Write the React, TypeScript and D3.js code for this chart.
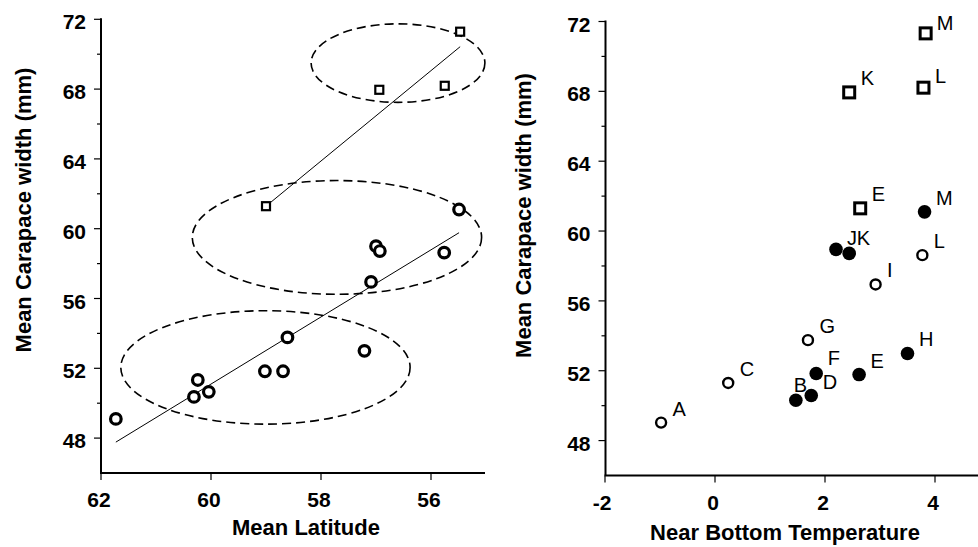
import React, { useEffect, useRef } from 'react';
import * as d3 from 'd3';

// Left panel: circles (lower groups) and squares (upper group) vs latitude
const circleLat = [61.73, 60.31, 60.24, 60.04, 59.02, 58.69, 58.61, 57.21, 57.09, 57.0, 56.93, 55.76, 55.49];
const circleWidth = [49.1, 50.36, 51.33, 50.65, 51.83, 51.83, 53.77, 53.0, 56.95, 59.0, 58.72, 58.63, 61.1];
const squareLat = [59.0, 56.94, 55.75, 55.47];
const squareWidth = [61.29, 67.96, 68.19, 71.29];

// regression line end points
const fitCircleLat = [61.73, 55.49];
const fitCircleWidth = [47.77, 59.77];
const fitSquareLat = [59.0, 55.47];
const fitSquareWidth = [61.29, 70.43];

// dashed ellipses: centre lat, centre width, half-width (lat), half-height (mm)
const ellipseLat = [56.6, 57.71, 59.01];
const ellipseWidth = [69.49, 59.5, 52.05];
const ellipseRLat = [1.58, 2.63, 2.63];
const ellipseRWidth = [2.25, 3.26, 3.25];

// Right panel: temperature
const sqLabels = ['M', 'K', 'L', 'E'];
const sqTemp = [3.83, 2.44, 3.79, 2.64];
const sqWidth = [71.32, 67.94, 68.21, 61.3];

const filledLabels = ['M', 'J', 'K', 'H', 'E', 'F', 'D', 'B'];
const filledTemp = [3.81, 2.2, 2.44, 3.5, 2.62, 1.84, 1.75, 1.47];
const filledWidth = [61.1, 58.95, 58.72, 52.99, 51.78, 51.84, 50.58, 50.31];

const openLabels = ['L', 'I', 'G', 'C', 'A'];
const openTemp = [3.77, 2.92, 1.69, 0.24, -0.98];
const openWidth = [58.62, 56.94, 53.75, 51.3, 49.03];

const yTicks = [48, 52, 56, 60, 64, 68, 72];
const yMinor = [50, 54, 58, 62, 66, 70];
const latTicks = [62, 60, 58, 56];
const tempTicks = [-2, 0, 2, 4];

const FONT = '"Liberation Sans", Arial, Helvetica, sans-serif';

export default function App() {
  const ref = useRef<SVGSVGElement>(null);

  useEffect(() => {
    const svg = d3.select(ref.current);
    svg.selectAll('*').remove();

    const drawYAxis = (yScale: d3.ScaleLinear<number, number>, x0: number, titleX: number, titleY: number) => {
      const g = svg.append('g');
      g.append('line')
        .attr('x1', x0).attr('x2', x0)
        .attr('y1', yScale(72) - 1).attr('y2', yScale(46))
        .attr('stroke', '#000').attr('stroke-width', 2);
      yTicks.forEach((t) => {
        g.append('line')
          .attr('x1', x0 - 7).attr('x2', x0)
          .attr('y1', yScale(t)).attr('y2', yScale(t))
          .attr('stroke', '#000').attr('stroke-width', 1.2);
        g.append('text')
          .attr('x', x0 - 15).attr('y', yScale(t) + 10)
          .attr('text-anchor', 'end')
          .style('font-family', FONT).style('font-size', '21px').style('font-weight', 'bold')
          .text(t);
      });
      yMinor.forEach((t) => {
        g.append('line')
          .attr('x1', x0 - 4).attr('x2', x0)
          .attr('y1', yScale(t)).attr('y2', yScale(t))
          .attr('stroke', '#000').attr('stroke-width', 1.2);
      });
      g.append('text')
        .attr('transform', `translate(${titleX},${titleY}) rotate(-90)`)
        .attr('text-anchor', 'middle')
        .style('font-family', FONT).style('font-size', '22px').style('font-weight', 'bold')
        .text('Mean Carapace width (mm)');
    };

    const drawXAxis = (
      xScale: d3.ScaleLinear<number, number>,
      ticks: number[],
      y0: number,
      x1: number,
      x2: number,
      title: string,
      titleX: number,
      titleY: number
    ) => {
      const g = svg.append('g');
      g.append('line')
        .attr('x1', x1 - 1).attr('x2', x2)
        .attr('y1', y0).attr('y2', y0)
        .attr('stroke', '#000').attr('stroke-width', 2);
      ticks.forEach((t) => {
        g.append('line')
          .attr('x1', xScale(t)).attr('x2', xScale(t))
          .attr('y1', y0).attr('y2', y0 + 7)
          .attr('stroke', '#000').attr('stroke-width', 1.2);
        g.append('text')
          .attr('x', xScale(t) - (t < 0 ? 3 : 2)).attr('y', y0 + 34)
          .attr('text-anchor', 'middle')
          .style('font-family', FONT).style('font-size', '21px').style('font-weight', 'bold')
          .text(t);
      });
      g.append('text')
        .attr('x', titleX).attr('y', titleY)
        .attr('text-anchor', 'middle')
        .style('font-family', FONT).style('font-size', '22px').style('font-weight', 'bold')
        .text(title);
    };

    // ---------- left panel ----------
    const xL = d3.scaleLinear().domain([62, 55]).range([101, 486]);
    const yL = d3.scaleLinear().domain([46, 72]).range([473, 19.3]);

    drawYAxis(yL, 101, 30.5, 210);
    drawXAxis(xL, latTicks, 473, 101, 485, 'Mean Latitude', 306, 535);

    const left = svg.append('g');

    ellipseLat.forEach((c, i) => {
      left.append('ellipse')
        .attr('cx', xL(c)).attr('cy', yL(ellipseWidth[i]))
        .attr('rx', Math.abs(xL(c + ellipseRLat[i]) - xL(c)))
        .attr('ry', Math.abs(yL(ellipseWidth[i] + ellipseRWidth[i]) - yL(ellipseWidth[i])))
        .attr('fill', 'none').attr('stroke', '#000')
        .attr('stroke-width', 1.6).attr('stroke-dasharray', '9,5');
    });

    const line = d3.line<[number, number]>().x((d) => xL(d[0])).y((d) => yL(d[1]));
    left.append('path')
      .attr('d', line(d3.zip(fitCircleLat, fitCircleWidth) as [number, number][]))
      .attr('stroke', '#000').attr('stroke-width', 1).attr('fill', 'none');
    left.append('path')
      .attr('d', line(d3.zip(fitSquareLat, fitSquareWidth) as [number, number][]))
      .attr('stroke', '#000').attr('stroke-width', 1).attr('fill', 'none');

    left.selectAll('.c')
      .data(circleLat)
      .enter()
      .append('circle')
      .attr('cx', (d) => xL(d))
      .attr('cy', (_, i) => yL(circleWidth[i]))
      .attr('r', 5.3)
      .attr('fill', '#fff').attr('stroke', '#000').attr('stroke-width', 3.2);

    left.selectAll('.s')
      .data(squareLat)
      .enter()
      .append('rect')
      .attr('x', (d) => xL(d) - 4)
      .attr('y', (_, i) => yL(squareWidth[i]) - 4)
      .attr('width', 8).attr('height', 8)
      .attr('fill', '#fff').attr('stroke', '#000').attr('stroke-width', 2.2);

    // ---------- right panel ----------
    const xR = d3.scaleLinear().domain([-2, 5]).range([605, 990]);
    const yR = d3.scaleLinear().domain([46, 72]).range([475.5, 21.5]);

    drawYAxis(yR, 605.5, 531, 215.5);
    drawXAxis(xR, tempTicks, 475.5, 605.5, 978, 'Near Bottom Temperature', 785, 540);

    const right = svg.append('g');

    // label offsets (px) relative to marker centre
    const off = (kind: string, label: string): [number, number] => {
      const key = `${kind}-${label}`;
      const o: Record<string, [number, number]> = {
        'sq-M': [11, -3],
        'sq-L': [11.5, -4.5],
        'f-J': [11, -4.5],
        'f-K': [7.5, -8.5],
        'f-B': [-2, -8.5],
        'f-F': [11.5, -9],
      };
      return o[key] || [11.5, -7];
    };

    const addLabel = (x: number, y: number, kind: string, label: string) => {
      const [dx, dy] = off(kind, label);
      right.append('text')
        .attr('x', x + dx).attr('y', y + dy)
        .style('font-family', FONT).style('font-size', '20px')
        .text(label);
    };

    // labels drawn first so markers sit on top (B is overlapped by its marker)
    sqTemp.forEach((t, i) => addLabel(xR(t), yR(sqWidth[i]), 'sq', sqLabels[i]));
    filledTemp.forEach((t, i) => addLabel(xR(t), yR(filledWidth[i]), 'f', filledLabels[i]));
    openTemp.forEach((t, i) => addLabel(xR(t), yR(openWidth[i]), 'o', openLabels[i]));

    right.selectAll('.sq')
      .data(sqTemp)
      .enter()
      .append('rect')
      .attr('x', (d) => xR(d) - 5.5)
      .attr('y', (_, i) => yR(sqWidth[i]) - 5.5)
      .attr('width', 11).attr('height', 11)
      .attr('fill', '#fff').attr('stroke', '#000').attr('stroke-width', 3);

    right.selectAll('.fc')
      .data(filledTemp)
      .enter()
      .append('circle')
      .attr('cx', (d) => xR(d))
      .attr('cy', (_, i) => yR(filledWidth[i]))
      .attr('r', 6.8)
      .attr('fill', '#000');

    right.selectAll('.oc')
      .data(openTemp)
      .enter()
      .append('circle')
      .attr('cx', (d) => xR(d))
      .attr('cy', (_, i) => yR(openWidth[i]))
      .attr('r', 5)
      .attr('fill', '#fff').attr('stroke', '#000').attr('stroke-width', 2.4);
  }, []);

  return (
    <svg
      ref={ref}
      width={978}
      height={547}
      style={{ position: 'absolute', left: 0, top: 0, background: '#fff' }}
    />
  );
}
